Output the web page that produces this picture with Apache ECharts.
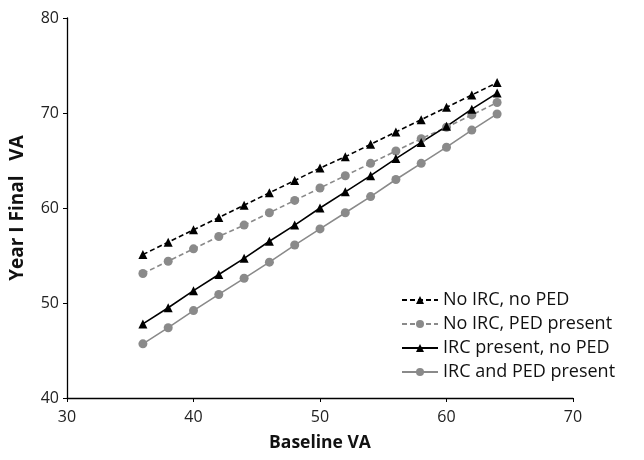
<!DOCTYPE html>
<html>
<head>
<meta charset="utf-8">
<script src="https://cdn.jsdelivr.net/npm/echarts@6/dist/echarts.min.js"></script>
<style>
  html, body { margin: 0; padding: 0; background: #fff; }
  #chart { width: 644px; height: 460px; }
</style>
</head>
<body>
<div id="chart"></div>
<script>
// Baseline visual acuity values (x) shared by every series
const baselineVA = [36, 38, 40, 42, 44, 46, 48, 50, 52, 54, 56, 58, 60, 62, 64];

// Predicted year 1 final VA for each group
const noIrcNoPed   = [55.1, 56.4, 57.7, 59.0, 60.3, 61.6, 62.9, 64.2, 65.4, 66.7, 68.0, 69.3, 70.6, 71.9, 73.2];
const noIrcPed     = [53.1, 54.4, 55.7, 57.0, 58.2, 59.5, 60.8, 62.1, 63.4, 64.7, 66.0, 67.3, 68.5, 69.8, 71.1];
const ircNoPed     = [47.8, 49.5, 51.3, 53.0, 54.7, 56.5, 58.2, 60.0, 61.7, 63.4, 65.2, 66.9, 68.6, 70.4, 72.1];
const ircAndPed    = [45.7, 47.4, 49.2, 50.9, 52.6, 54.3, 56.1, 57.8, 59.5, 61.2, 63.0, 64.7, 66.4, 68.2, 69.9];

const seriesNames = ['No IRC, no PED', 'No IRC, PED present', 'IRC present, no PED', 'IRC and PED present'];

const pairs = (ys) => baselineVA.map((x, i) => [x, ys[i]]);

const FONT = '"Open Sans", Lato, sans-serif';
const BLACK = '#000000';
const GREY = '#8a8a8a';

function lineSeries(name, ys, color, symbol, dashed) {
  return {
    name: name,
    type: 'line',
    data: pairs(ys),
    symbol: symbol,
    symbolSize: 9,
    showSymbol: true,
    lineStyle: { color: color, width: 1.6, type: dashed ? [5, 3] : 'solid' },
    itemStyle: { color: color },
    emphasis: { disabled: true },
    animation: false
  };
}

const chart = echarts.init(document.getElementById('chart'), null, { renderer: 'canvas' });

chart.setOption({
  backgroundColor: '#ffffff',
  animation: false,
  grid: { left: 67, right: 71, top: 18, bottom: 62, containLabel: false },
  legend: {
    orient: 'vertical',
    left: 396,
    top: 286,
    itemWidth: 36,
    itemHeight: 10,
    itemGap: 6,
    textStyle: { fontFamily: FONT, fontSize: 18, color: '#111' },
    data: seriesNames
  },
  xAxis: {
    type: 'value',
    min: 30, max: 70, interval: 10,
    name: 'Baseline VA',
    nameLocation: 'middle',
    nameGap: 36,
    nameTextStyle: { fontFamily: FONT, fontSize: 17.5, fontWeight: 'bold', color: '#111' },
    axisLine: { show: true, onZero: false, lineStyle: { color: '#000', width: 1.3 } },
    axisTick: { show: true, inside: false, length: 4, lineStyle: { color: '#000' } },
    axisLabel: { fontFamily: FONT, fontSize: 16, color: '#222', margin: 11 },
    splitLine: { show: false }
  },
  yAxis: {
    type: 'value',
    min: 40, max: 80, interval: 10,
    name: 'Year I Final   VA',
    nameLocation: 'middle',
    nameGap: 40,
    nameRotate: 90,
    nameTextStyle: { fontFamily: FONT, fontSize: 19, fontWeight: 'bold', color: '#111' },
    axisLine: { show: true, onZero: false, lineStyle: { color: '#000', width: 1.3 } },
    axisTick: { show: true, inside: false, length: 4, lineStyle: { color: '#000' } },
    axisLabel: { fontFamily: FONT, fontSize: 16, color: '#222', margin: 8 },
    splitLine: { show: false }
  },
  series: [
    lineSeries(seriesNames[0], noIrcNoPed, BLACK, 'triangle', true),
    lineSeries(seriesNames[1], noIrcPed, GREY, 'circle', true),
    lineSeries(seriesNames[2], ircNoPed, BLACK, 'triangle', false),
    lineSeries(seriesNames[3], ircAndPed, GREY, 'circle', false)
  ]
});
</script>
</body>
</html>
